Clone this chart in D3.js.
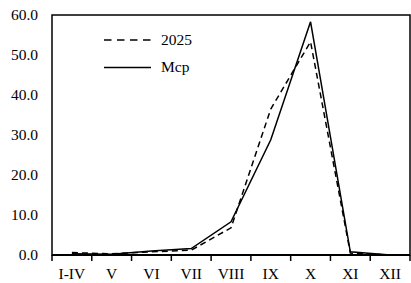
<!DOCTYPE html>
<html><head><meta charset="utf-8">
<script src="https://cdn.jsdelivr.net/npm/d3@7"></script>
<style>body{margin:0;background:#fff}svg{display:block}text{font-family:"Liberation Serif","Times New Roman",serif;fill:#000}</style>
</head><body><svg id="c" width="411" height="283"></svg>
<script>
const categories = ["I-IV","V","VI","VII","VIII","IX","X","XI","XII"];
const series2025 = [0.6,0.3,0.8,1.2,6.8,36.5,53.3,0.5,0.0];
const seriesMcp = [0.3,0.2,1.0,1.6,8.3,28.8,58.3,0.8,0.0];
const yTicks = [0,10,20,30,40,50,60];
const legendNames = ["2025","Mcp"];

const svg = d3.select("#c");
const m = {l:52, r:410, t:15, b:255};
const fs = 15.5;
const x = d3.scaleBand().domain(categories).range([m.l, m.r]);
const y = d3.scaleLinear().domain([0,60]).range([m.b, m.t]);

// frame
svg.append("rect").attr("x",m.l).attr("y",m.t).attr("width",m.r-m.l).attr("height",m.b-m.t)
  .attr("fill","none").attr("stroke","#000").attr("stroke-width",1.5);

// y labels
svg.append("g").selectAll("text").data(yTicks).join("text")
  .attr("x",38).attr("y",d=>y(d)).attr("dy","0.35em").attr("text-anchor","end")
  .attr("font-size",fs).text(d=>d.toFixed(1));

// x axis
const xa = svg.append("g").attr("transform",`translate(0,${m.b})`);
xa.append("line").attr("x1",m.l).attr("x2",m.r).attr("stroke","#000").attr("stroke-width",2);
const bounds = categories.map(c=>x(c)).concat([m.r]);
xa.selectAll("line.t").data(bounds).join("line").attr("class","t")
  .attr("x1",d=>d).attr("x2",d=>d).attr("y1",0).attr("y2",6).attr("stroke","#000").attr("stroke-width",1.5);
xa.selectAll("text").data(categories).join("text")
  .attr("x",d=>x(d)+x.bandwidth()/2).attr("y",23.5).attr("text-anchor","middle")
  .attr("font-size",fs).text(d=>d);

const line = d3.line().x((d,i)=>x(categories[i])+x.bandwidth()/2).y(d=>y(d));
svg.append("path").datum(series2025).attr("d",line).attr("fill","none")
  .attr("stroke","#000").attr("stroke-width",1.5).attr("stroke-dasharray","6,4");
svg.append("path").datum(seriesMcp).attr("d",line).attr("fill","none")
  .attr("stroke","#000").attr("stroke-width",1.5);

// legend
const lg = svg.append("g");
[0,1].forEach(i=>{
  const yy = 40 + i*27.5;
  lg.append("line").attr("x1",104).attr("x2",151).attr("y1",yy).attr("y2",yy)
    .attr("stroke","#000").attr("stroke-width",1.5).attr("stroke-dasharray", i===0?"7.5,5.5":null);
  lg.append("text").attr("x",161).attr("y",yy-0.5).attr("dy","0.35em").attr("font-size",fs).text(legendNames[i]);
});
</script></body></html>
